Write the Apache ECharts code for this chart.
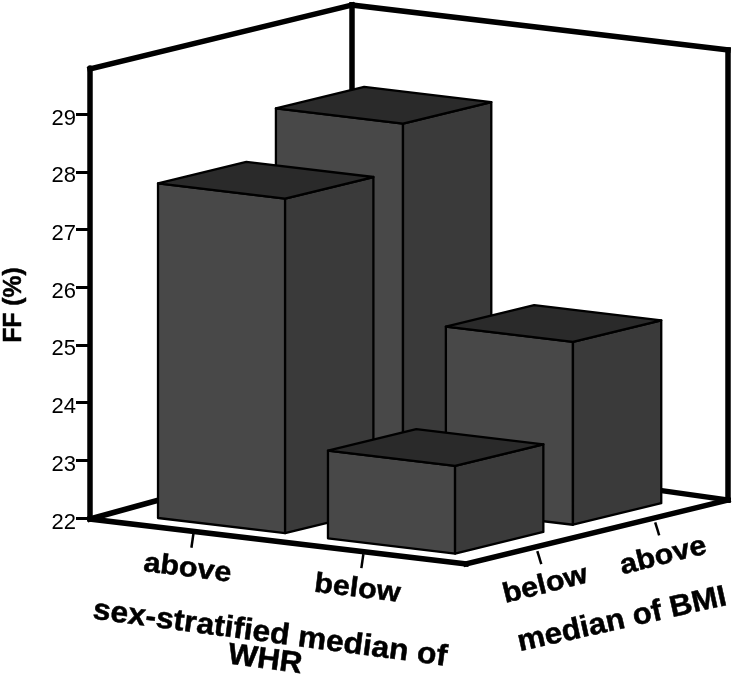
<!DOCTYPE html>
<html><head><meta charset="utf-8">
<style>html,body{margin:0;padding:0;background:#fff}#c{width:734px;height:680px}</style>
<script src="https://cdn.jsdelivr.net/npm/echarts@6/dist/echarts.min.js"></script>
</head><body><div id="c"></div>
<script>
// ---- chart values ----
var whrCategories = ['above', 'below'];
var bmiCategories = ['below', 'above'];
var ffTicks = [22, 23, 24, 25, 26, 27, 28, 29];
var ffAboveWhr = [27.8, 28.6];   // BMI below, BMI above
var ffBelowWhr = [23.52, 25.17]; // BMI below, BMI above
var ffWall = 29.8;               // top of the box on the FF axis
var ffBackFloor = 22.14;         // slight perspective of the far floor corner

// ---- oblique projection and styling ----
var PX = {x: 376, y: 45}, QX = {x: 262, y: -64}, UNIT = 57.7, W = 638;
var BAR_P = [0.114, 0.566], BAR_Q = [0.096, 0.546], BAR_W = 0.338, BAR_D = 0.337;
var FONT = '"Liberation Sans", Arial, sans-serif';
var FRONT = '#484848', SIDE = '#3a3a3a', TOP = '#2a2a2a';

function project(api, p, q, v) {
  return api.coord([(p * PX.x + q * QX.x) / W, v - (p * PX.y + q * QX.y + 1) / UNIT]);
}
function poly(points, fill) {
  return {type: 'polygon', shape: {points: points},
    style: {fill: fill, stroke: '#000', lineWidth: 2.3, lineJoin: 'round'}};
}
function renderBar(params, api) {
  var i = api.value(0), j = api.value(1), v = api.value(2);
  var p0 = BAR_P[i], p1 = p0 + BAR_W, q0 = BAR_Q[j], q1 = q0 + BAR_D;
  var P = function (p, q, val) { return project(api, p, q, val); };
  return {type: 'group', children: [
    poly([P(p0, q0, 22), P(p1, q0, 22), P(p1, q0, v), P(p0, q0, v)], FRONT),
    poly([P(p1, q0, 22), P(p1, q1, 22), P(p1, q1, v), P(p1, q0, v)], SIDE),
    poly([P(p0, q0, v), P(p1, q0, v), P(p1, q1, v), P(p0, q1, v)], TOP)
  ]};
}
var barOrder = [
  [0, 1, ffAboveWhr[1]],
  [0, 0, ffAboveWhr[0]],
  [1, 1, ffBelowWhr[1]],
  [1, 0, ffBelowWhr[0]]
];
var frameSegments = [
  [0, 0, 22, 0, 1, ffBackFloor],
  [0, 1, ffBackFloor, 1, 1, 22],
  [0, 0, ffWall, 0, 1, ffWall],
  [0, 1, ffWall, 1, 1, ffWall],
  [0, 1, ffBackFloor, 0, 1, ffWall],
  [1, 1, 22, 1, 1, ffWall],
  [0, 0, 22, 1, 0, 22],
  [1, 0, 22, 1, 1, 22]
];
function renderFrame(params, api) {
  return {type: 'polyline', shape: {points: [
    project(api, api.value(0), api.value(1), api.value(2)),
    project(api, api.value(3), api.value(4), api.value(5))]},
    style: {stroke: '#000', lineWidth: 5.5, fill: null, lineCap: 'square', lineJoin: 'miter'}};
}
function textStyle(str, size) {
  return {text: str, fill: '#000', stroke: '#000', lineWidth: 0.5, font: 'bold ' + size + 'px ' + FONT, align: 'center', verticalAlign: 'middle'};
}
function textEl(str, x, y, size, angleDeg, stretch) {
  return {type: 'text', x: x, y: y, rotation: angleDeg * Math.PI / 180, scaleX: stretch, scaleY: 1, style: textStyle(str, size)};
}
function renderWhrAxis(params, api) {
  var i = params.dataIndex;
  var c = project(api, BAR_P[i] + BAR_W / 2, 0, 22);
  return {type: 'group', children: [
    {type: 'line', shape: {x1: c[0] - 3, y1: c[1] + 2, x2: c[0] - 5, y2: c[1] + 16}, style: {stroke: '#000', lineWidth: 2.5}},
    textEl(whrCategories[i], c[0] - 9, c[1] + 37, 28, -7, 1.09)
  ]};
}
function renderBmiAxis(params, api) {
  var j = params.dataIndex;
  var c = project(api, 1, BAR_Q[j] + BAR_D / 2, 22);
  return {type: 'group', children: [
    {type: 'line', shape: {x1: c[0] + 2, y1: c[1] + 4, x2: c[0] + 6, y2: c[1] + 17}, style: {stroke: '#000', lineWidth: 2.5}},
    textEl(bmiCategories[j], c[0] + 10, c[1] + 38, 28, 14, 1.09)
  ]};
}

var chart = echarts.init(document.getElementById('c'), null, {renderer: 'canvas'});
chart.setOption({
  animation: false,
  backgroundColor: '#fff',
  grid: {left: 90, top: 68, width: W, height: 450, containLabel: false},
  xAxis: {type: 'value', min: 0, max: 1, show: false},
  yAxis: {
    type: 'value', min: 22, max: ffWall, position: 'left',
    axisLine: {show: true, onZero: false, lineStyle: {color: '#000', width: 5.5}},
    axisTick: {show: true, length: 14, inside: false, customValues: ffTicks, lineStyle: {color: '#000', width: 3}},
    axisLabel: {show: true, customValues: ffTicks, margin: 14, fontSize: 22, color: '#000', fontFamily: FONT, verticalAlign: 'top', lineHeight: 9},
    splitLine: {show: false}
  },
  graphic: [
    {type: 'text', x: 14, y: 305, rotation: Math.PI / 2, scaleX: 0.95, style: textStyle('FF (%)', 26)},
    {type: 'text', x: 270, y: 634, rotation: -7.6 * Math.PI / 180, scaleX: 1.06, style: textStyle('sex-stratified median of', 30)},
    {type: 'text', x: 265, y: 660, rotation: -7.6 * Math.PI / 180, scaleX: 1.04, style: textStyle('WHR', 30)},
    {type: 'text', x: 622, y: 620, rotation: 12.6 * Math.PI / 180, scaleX: 1.04, style: textStyle('median of BMI', 30)}
  ],
  series: [
    {type: 'custom', name: 'frame', coordinateSystem: 'cartesian2d', data: frameSegments, renderItem: renderFrame, z: 1, silent: true, encode: {x: 0, y: 2}},
    {type: 'custom', name: 'FF (%)', coordinateSystem: 'cartesian2d', data: barOrder, renderItem: renderBar, z: 2, silent: true, encode: {x: 0, y: 2}},
    {type: 'custom', name: 'WHR axis', coordinateSystem: 'cartesian2d', data: whrCategories.map(function (c, i) { return [i, 22]; }), renderItem: renderWhrAxis, z: 3, silent: true, encode: {x: 0, y: 1}},
    {type: 'custom', name: 'BMI axis', coordinateSystem: 'cartesian2d', data: bmiCategories.map(function (c, i) { return [i, 22]; }), renderItem: renderBmiAxis, z: 3, silent: true, encode: {x: 0, y: 1}}
  ]
});
</script></body></html>
